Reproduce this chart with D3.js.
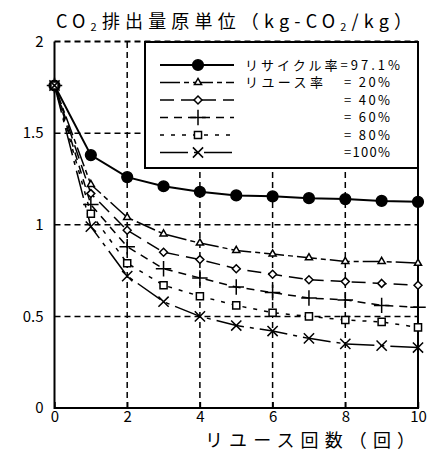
<!DOCTYPE html>
<html>
<head>
<meta charset="utf-8">
<script src="https://cdn.jsdelivr.net/npm/d3@7"></script>
<style>
  html, body { margin: 0; padding: 0; background: #fff; }
  svg { display: block; }
  text { font-family: "Noto Sans CJK JP", "DejaVu Sans", sans-serif; fill: #000; }
</style>
</head>
<body>
<svg id="chart" width="431" height="458"></svg>
<script>
// Reuse count (x) and CO2 emission intensity per series
const reuseCounts = [0, 1, 2, 3, 4, 5, 6, 7, 8, 9, 10];
const recycleOnly = [1.76, 1.38, 1.26, 1.21, 1.18, 1.16, 1.155, 1.145, 1.14, 1.13, 1.125];
const reuse20 = [1.76, 1.22, 1.04, 0.95, 0.90, 0.86, 0.84, 0.82, 0.80, 0.80, 0.79];
const reuse40 = [1.76, 1.17, 0.97, 0.85, 0.81, 0.76, 0.73, 0.70, 0.69, 0.68, 0.67];
const reuse60 = [1.76, 1.11, 0.88, 0.76, 0.71, 0.66, 0.63, 0.60, 0.59, 0.56, 0.55];
const reuse80 = [1.76, 1.06, 0.79, 0.67, 0.61, 0.56, 0.52, 0.50, 0.48, 0.47, 0.44];
const reuse100 = [1.76, 0.99, 0.72, 0.58, 0.50, 0.45, 0.42, 0.38, 0.35, 0.34, 0.33];

const xTicks = [0, 2, 4, 6, 8, 10];
const yTicks = [0, 0.5, 1, 1.5, 2];
const yTickLabels = ["0", "0.5", "1", "1.5", "2"];
const legendNames = ["リサイクル率=97.1%", "リユース率", "", "", "", ""];
const legendRates = ["", "= 20%", "= 40%", "= 60%", "= 80%", "=100%"];

const series = [
  { values: recycleOnly, symbol: d3.symbolCircle, size: 90, fill: "#000", dash: null, width: 2 },
  { values: reuse20, symbol: d3.symbolTriangle2, size: 36, fill: "#fff", dash: "20,4,5,4", width: 1.5 },
  { values: reuse40, symbol: d3.symbolDiamond2, size: 40, fill: "#fff", dash: "14,7", width: 1.5 },
  { values: reuse60, symbol: d3.symbolPlus, size: 80, fill: "none", dash: "8,6", width: 1.5 },
  { values: reuse80, symbol: d3.symbolSquare2, size: 64, fill: "#fff", dash: "4,7", width: 1.5 },
  { values: reuse100, symbol: d3.symbolTimes, size: 70, fill: "none", dash: "28,6,4,6", width: 1.5 }
];

const svg = d3.select("#chart");
const plotLeft = 54.5, plotRight = 418, plotTop = 41.5, plotBottom = 408;

const x = d3.scaleLinear().domain([0, 10]).range([plotLeft, plotRight]);
const y = d3.scaleLinear().domain([0, 2]).range([plotBottom, plotTop]);

// Dashed grid
const grid = svg.append("g").attr("stroke", "#000").attr("stroke-width", 1.5).attr("stroke-dasharray", "6,4");
grid.selectAll("line.v").data([2, 4, 6, 8]).join("line").attr("class", "v")
  .attr("x1", d => x(d)).attr("x2", d => x(d))
  .attr("y1", y(0)).attr("y2", y(2));
grid.selectAll("line.h").data([0.5, 1, 1.5, 2]).join("line").attr("class", "h")
  .attr("x1", x(0)).attr("x2", x(10))
  .attr("y1", d => y(d)).attr("y2", d => y(d))
  .attr("stroke-width", d => d === 2 ? 2 : 1.5);

// Frame: left, bottom and right edges are solid
svg.append("path")
  .attr("d", `M${x(0)},${y(2)}V${y(0)}H${x(10)}V${y(2)}`)
  .attr("fill", "none").attr("stroke", "#000").attr("stroke-width", 2);

// Axes
const xAxis = d3.axisBottom(x).tickValues(xTicks).tickFormat(d3.format("d"))
  .tickSizeInner(-6).tickSizeOuter(0).tickPadding(3);
const gx = svg.append("g").attr("transform", `translate(0,${y(0)})`).call(xAxis);
gx.select(".domain").remove();
gx.selectAll(".tick line").attr("stroke-width", 1.5);
gx.selectAll("text").attr("font-size", 15).attr("font-family", "DejaVu Sans").attr("dy", "0.72em");

const yAxis = d3.axisLeft(y).tickValues(yTicks).tickFormat((d, i) => yTickLabels[i])
  .tickSizeInner(0).tickSizeOuter(0).tickPadding(11);
const gy = svg.append("g").attr("transform", `translate(${x(0)},0)`).call(yAxis);
gy.select(".domain").remove();
gy.selectAll("text").attr("font-size", 15).attr("font-family", "DejaVu Sans");

// Lines and markers
const line = d3.line().x((d, i) => x(reuseCounts[i])).y(d => y(d));
series.forEach(s => {
  svg.append("path")
    .attr("d", line(s.values))
    .attr("fill", "none").attr("stroke", "#000")
    .attr("stroke-width", s.width)
    .attr("stroke-dasharray", s.dash);
});
series.forEach(s => {
  const sym = d3.symbol().type(s.symbol).size(s.size);
  svg.append("g").selectAll("path").data(s.values).join("path")
    .attr("transform", (d, i) => `translate(${x(reuseCounts[i])},${y(d)})`)
    .attr("d", sym)
    .attr("fill", s.fill).attr("stroke", "#000").attr("stroke-width", 1.5);
});

// Legend
const lg = svg.append("g");
lg.append("rect").attr("x", 145).attr("y", 42).attr("width", 273).attr("height", 126)
  .attr("fill", "#fff").attr("stroke", "#000").attr("stroke-width", 2);
series.forEach((s, i) => {
  const yy = 65 + i * 17.5;
  lg.append("line").attr("x1", 160).attr("x2", 234).attr("y1", yy).attr("y2", yy)
    .attr("stroke", "#000").attr("stroke-width", s.width).attr("stroke-dasharray", s.dash);
  lg.append("path").attr("transform", `translate(198,${yy})`)
    .attr("d", d3.symbol().type(s.symbol).size(s.size)())
    .attr("fill", s.fill).attr("stroke", "#000").attr("stroke-width", 1.5);
  if (legendNames[i]) {
    const t = lg.append("text").attr("x", 245).attr("y", yy).attr("dy", "0.35em")
      .attr("font-size", 13).text(legendNames[i]);
    if (i === 0) t.attr("textLength", 155).attr("lengthAdjust", "spacing");
    else t.attr("textLength", 78).attr("lengthAdjust", "spacing");
  }
  if (legendRates[i]) {
    lg.append("text").attr("x", 344).attr("y", yy).attr("dy", "0.35em")
      .attr("font-size", 13).attr("textLength", 46).attr("lengthAdjust", "spacing")
      .text(legendRates[i]);
  }
});

// Titles
const title = svg.append("text").attr("x", 56).attr("y", 28).attr("font-size", 18)
  .attr("textLength", 356).attr("lengthAdjust", "spacing");
title.append("tspan").text("CO");
title.append("tspan").attr("font-size", 11).attr("dy", 3).text("2");
title.append("tspan").attr("dy", -3).text("排出量原単位（kg-CO");
title.append("tspan").attr("font-size", 11).attr("dy", 3).text("2");
title.append("tspan").attr("dy", -3).text("/kg）");

svg.append("text").attr("x", 205).attr("y", 447).attr("font-size", 18)
  .attr("textLength", 210).attr("lengthAdjust", "spacing")
  .text("リユース回数（回）");
</script>
</body>
</html>
